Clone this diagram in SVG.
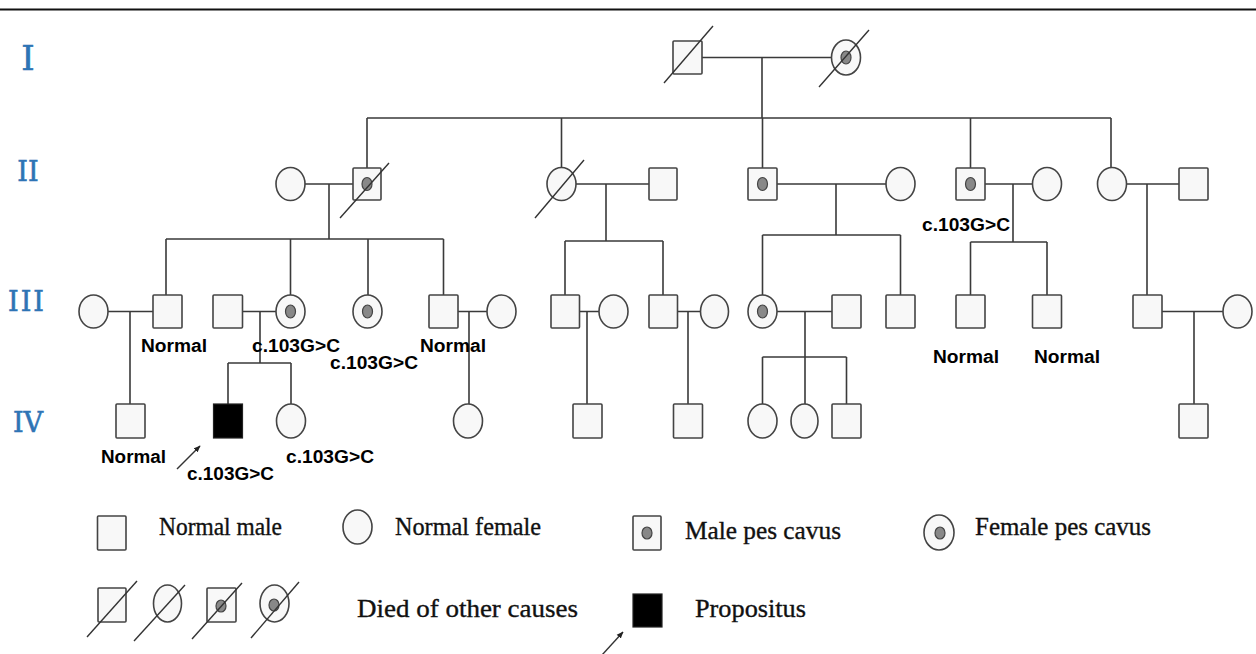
<svg xmlns="http://www.w3.org/2000/svg" width="1256" height="654" viewBox="0 0 1256 654">
<style>
.m{fill:#f8f8f8;stroke:#444;stroke-width:1.6}
.p{fill:#000;stroke:#222;stroke-width:1.2}
.dot{fill:#888;stroke:#444;stroke-width:1.2}
.ln{stroke:#3a3a3a;stroke-width:1.6;fill:none}
.sl{stroke:#333;stroke-width:1.4;fill:none}
.gen{font-family:"DejaVu Serif","Liberation Serif",serif;fill:#2e74b5;stroke:#2e74b5;stroke-width:0.6}
.lab{font-family:"Liberation Sans",Arial,sans-serif;font-weight:bold;font-size:18px;fill:#000}
.leg{font-family:"Liberation Serif","Times New Roman",serif;font-size:25px;fill:#111;stroke:#111;stroke-width:0.35}
</style>
<defs>
<marker id="ah" viewBox="0 0 10 10" refX="9" refY="5" markerWidth="7" markerHeight="7" orient="auto" markerUnits="userSpaceOnUse">
<path d="M0,1 L10,5 L0,9 Z" fill="#222"/>
</marker>
</defs>
<rect width="1256" height="654" fill="#fff"/>
<line x1="0" y1="9.5" x2="1256" y2="9.5" stroke="#111" stroke-width="2"/>

<g id="generations">
<text class="gen" x="28" y="70" font-size="34" text-anchor="middle">I</text>
<text class="gen" x="28" y="181" font-size="27" text-anchor="middle">II</text>
<text class="gen" x="26" y="311" font-size="27" text-anchor="middle" textLength="36" lengthAdjust="spacing">III</text>
<text class="gen" x="28" y="432" font-size="27" text-anchor="middle">IV</text>
</g>

<g id="connectors">
<path class="ln" d="M702,57.5 H831.5 M762,57.5 V118 M367,118 H1111 M367,118 V168 M561.5,118 V168 M762.5,118 V168 M970.5,118 V168 M1111,118 V168"/>
<path class="ln" d="M305,184 H353 M329,184 V239 M576,184 H649 M606,184 V241 M777,184 H886 M836,184 V235 M985,184 H1032.5 M1013,184 V242 M1126.5,184 H1179 M1147,184 V295"/>
<path class="ln" d="M166,239 H443.5 M166,239 V295 M290.5,239 V295 M368,239 V295 M443.5,239 V295"/>
<path class="ln" d="M108,311.5 H153 M130,311.5 V404"/>
<path class="ln" d="M242.5,311.5 H276 M260,311.5 V363 M228,363 H291 M228,363 V404 M291,363 V404"/>
<path class="ln" d="M458,311.5 H487 M469,311.5 V404"/>
<path class="ln" d="M565,241 H663 M565,241 V295 M663,241 V295"/>
<path class="ln" d="M579.5,311.5 H599 M587,311.5 V404"/>
<path class="ln" d="M677.5,311.5 H700 M688,311.5 V404"/>
<path class="ln" d="M762.5,235 H900.5 M762.5,235 V295 M900.5,235 V295"/>
<path class="ln" d="M777,311.5 H832 M805,311.5 V404 M762.5,357 H846.5 M762.5,357 V404 M846.5,357 V404"/>
<path class="ln" d="M970.5,242 H1047 M970.5,242 V295 M1047,242 V295"/>
<path class="ln" d="M1162,311.5 H1223 M1194,311.5 V404"/>
<line class="sl" x1="177" y1="469" x2="200" y2="446" marker-end="url(#ah)"/>
<line class="sl" x1="602" y1="655" x2="623" y2="632" marker-end="url(#ah)"/>
</g>

<g id="gen-I">
<g id="I-1"><rect class="m" x="673" y="41" width="29" height="33" rx="1"/><line class="sl" x1="664" y1="83" x2="713" y2="26"/></g>
<g id="I-2"><ellipse class="m" cx="846" cy="57.5" rx="14.5" ry="17.5"/><ellipse class="dot" cx="846" cy="57.5" rx="5" ry="6.5"/><line class="sl" x1="819" y1="87" x2="869" y2="30"/></g>
</g>

<g id="gen-II">
<g id="II-1"><ellipse class="m" cx="290.5" cy="184" rx="14.5" ry="16.5"/></g>
<g id="II-2"><rect class="m" x="353" y="168" width="28" height="32" rx="1"/><ellipse class="dot" cx="367" cy="184" rx="5" ry="6.5"/><line class="sl" x1="340" y1="218" x2="389" y2="163"/></g>
<g id="II-3"><ellipse class="m" cx="561.5" cy="184" rx="14.5" ry="16.5"/><line class="sl" x1="535" y1="218" x2="584" y2="160"/></g>
<g id="II-4"><rect class="m" x="649" y="168" width="28" height="32" rx="1"/></g>
<g id="II-5"><rect class="m" x="748" y="168" width="29" height="32" rx="1"/><ellipse class="dot" cx="762.5" cy="184" rx="5" ry="6.5"/></g>
<g id="II-6"><ellipse class="m" cx="900.5" cy="184" rx="14.5" ry="16.5"/></g>
<g id="II-7"><rect class="m" x="956" y="168" width="29" height="32" rx="1"/><ellipse class="dot" cx="970.5" cy="184" rx="5" ry="6.5"/></g>
<g id="II-8"><ellipse class="m" cx="1047" cy="184" rx="14.5" ry="16.5"/></g>
<g id="II-9"><ellipse class="m" cx="1112" cy="184" rx="14.5" ry="16.5"/></g>
<g id="II-10"><rect class="m" x="1179" y="168" width="29" height="32" rx="1"/></g>
</g>

<g id="gen-III">
<g id="III-1"><ellipse class="m" cx="93.5" cy="311.5" rx="14.5" ry="16.5"/></g>
<g id="III-2"><rect class="m" x="153" y="295" width="29" height="33" rx="1"/></g>
<g id="III-3"><rect class="m" x="213" y="295" width="29.5" height="33" rx="1"/></g>
<g id="III-4"><ellipse class="m" cx="290.5" cy="311.5" rx="14.5" ry="16.5"/><ellipse class="dot" cx="290.5" cy="311.5" rx="5" ry="6.5"/></g>
<g id="III-5"><ellipse class="m" cx="367.5" cy="311.5" rx="14.5" ry="16.5"/><ellipse class="dot" cx="367.5" cy="311.5" rx="5" ry="6.5"/></g>
<g id="III-6"><rect class="m" x="429" y="295" width="29" height="33" rx="1"/></g>
<g id="III-7"><ellipse class="m" cx="501.5" cy="311.5" rx="14.5" ry="16.5"/></g>
<g id="III-8"><rect class="m" x="551" y="295" width="28.5" height="33" rx="1"/></g>
<g id="III-9"><ellipse class="m" cx="613.5" cy="311.5" rx="14.5" ry="16.5"/></g>
<g id="III-10"><rect class="m" x="649" y="295" width="28.5" height="33" rx="1"/></g>
<g id="III-11"><ellipse class="m" cx="714.5" cy="311.5" rx="14" ry="16.5"/></g>
<g id="III-12"><ellipse class="m" cx="762.5" cy="311.5" rx="14.5" ry="16.5"/><ellipse class="dot" cx="762.5" cy="311.5" rx="5" ry="6.5"/></g>
<g id="III-13"><rect class="m" x="832" y="295" width="29" height="33" rx="1"/></g>
<g id="III-14"><rect class="m" x="886" y="295" width="29" height="33" rx="1"/></g>
<g id="III-15"><rect class="m" x="956" y="295" width="29" height="33" rx="1"/></g>
<g id="III-16"><rect class="m" x="1032.5" y="295" width="29" height="33" rx="1"/></g>
<g id="III-17"><rect class="m" x="1133" y="295" width="29" height="33" rx="1"/></g>
<g id="III-18"><ellipse class="m" cx="1237.5" cy="311.5" rx="14.5" ry="16.5"/></g>
</g>

<g id="gen-IV">
<g id="IV-1"><rect class="m" x="116" y="404" width="29" height="34" rx="1"/></g>
<g id="IV-2"><rect class="p" x="213.5" y="404" width="29" height="34"/></g>
<g id="IV-3"><ellipse class="m" cx="291" cy="421" rx="14.5" ry="17"/></g>
<g id="IV-4"><ellipse class="m" cx="468" cy="421" rx="14.5" ry="17"/></g>
<g id="IV-5"><rect class="m" x="573" y="404" width="29" height="34" rx="1"/></g>
<g id="IV-6"><rect class="m" x="673.5" y="404" width="29" height="34" rx="1"/></g>
<g id="IV-7"><ellipse class="m" cx="762.5" cy="421" rx="14.5" ry="17"/></g>
<g id="IV-8"><ellipse class="m" cx="804.5" cy="421" rx="13.5" ry="17"/></g>
<g id="IV-9"><rect class="m" x="832" y="404" width="29" height="34" rx="1"/></g>
<g id="IV-10"><rect class="m" x="1179" y="404" width="29" height="34" rx="1"/></g>
</g>

<g id="labels">
<text class="lab" x="922" y="231" textLength="88" lengthAdjust="spacingAndGlyphs">c.103G&gt;C</text>
<text class="lab" x="141" y="352" textLength="66" lengthAdjust="spacingAndGlyphs">Normal</text>
<text class="lab" x="252" y="352" textLength="88" lengthAdjust="spacingAndGlyphs">c.103G&gt;C</text>
<text class="lab" x="330" y="369" textLength="88" lengthAdjust="spacingAndGlyphs">c.103G&gt;C</text>
<text class="lab" x="420" y="352" textLength="66" lengthAdjust="spacingAndGlyphs">Normal</text>
<text class="lab" x="933" y="363" textLength="66" lengthAdjust="spacingAndGlyphs">Normal</text>
<text class="lab" x="1034" y="363" textLength="66" lengthAdjust="spacingAndGlyphs">Normal</text>
<text class="lab" x="101" y="463" textLength="65" lengthAdjust="spacingAndGlyphs">Normal</text>
<text class="lab" x="187" y="480" textLength="87" lengthAdjust="spacingAndGlyphs">c.103G&gt;C</text>
<text class="lab" x="286" y="463" textLength="88" lengthAdjust="spacingAndGlyphs">c.103G&gt;C</text>
</g>

<g id="legend">
<g id="leg-normal-male"><rect class="m" x="97.5" y="516" width="28.5" height="34" rx="1"/><text class="leg" x="159" y="535" textLength="123" lengthAdjust="spacingAndGlyphs">Normal male</text></g>
<g id="leg-normal-female"><ellipse class="m" cx="357.5" cy="527" rx="14.5" ry="17"/><text class="leg" x="395" y="535" textLength="146" lengthAdjust="spacingAndGlyphs">Normal female</text></g>
<g id="leg-male-pes"><rect class="m" x="633" y="516" width="28" height="34" rx="1"/><ellipse class="dot" cx="647" cy="533" rx="5" ry="6"/><text class="leg" x="685" y="539" textLength="156" lengthAdjust="spacingAndGlyphs">Male pes cavus</text></g>
<g id="leg-female-pes"><ellipse class="m" cx="939" cy="532.5" rx="15" ry="17.5"/><ellipse class="dot" cx="940" cy="533" rx="5" ry="6"/><text class="leg" x="975" y="535" textLength="176" lengthAdjust="spacingAndGlyphs">Female pes cavus</text></g>
<g id="leg-died">
<rect class="m" x="98" y="588" width="28" height="34" rx="1"/><line class="sl" x1="87" y1="637" x2="137" y2="581"/>
<ellipse class="m" cx="167.5" cy="603.5" rx="14" ry="18.5"/><line class="sl" x1="134" y1="641" x2="185" y2="585"/>
<rect class="m" x="207" y="588" width="29" height="34" rx="1"/><ellipse class="dot" cx="221" cy="606" rx="5" ry="6"/><line class="sl" x1="192" y1="639" x2="242" y2="583"/>
<ellipse class="m" cx="274.5" cy="603.5" rx="14.5" ry="18.5"/><ellipse class="dot" cx="274" cy="605" rx="5" ry="6"/><line class="sl" x1="251" y1="638" x2="299" y2="582"/>
<text class="leg" x="357" y="617" textLength="221" lengthAdjust="spacingAndGlyphs">Died of other causes</text>
</g>
<g id="leg-propositus"><rect class="p" x="633" y="594" width="29" height="33"/><text class="leg" x="695" y="617" textLength="111" lengthAdjust="spacingAndGlyphs">Propositus</text></g>
</g>
</svg>
